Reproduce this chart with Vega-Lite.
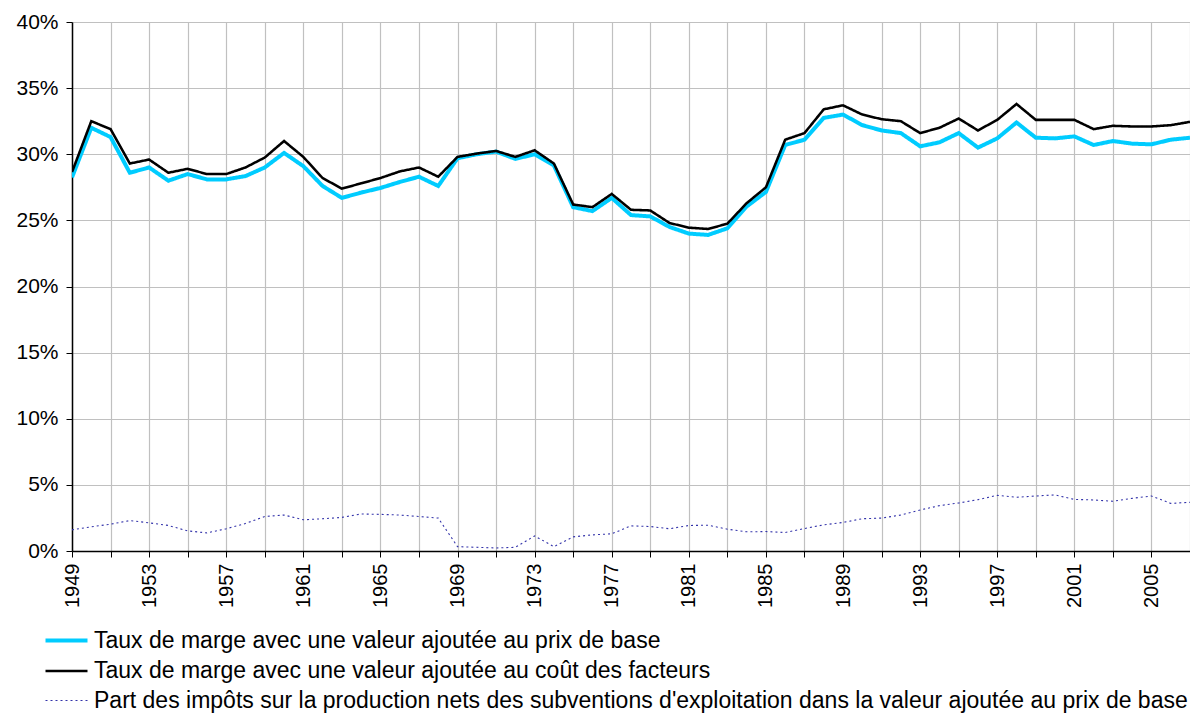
{
  "$schema": "https://vega.github.io/schema/vega-lite/v6.json",
  "width": 1118,
  "height": 529,
  "autosize": {"type": "none"},
  "padding": {"left": 72, "top": 22, "right": 0, "bottom": 162},
  "background": "white",
  "config": {
    "view": {"stroke": null},
    "font": "Liberation Sans"
  },
  "datasets": {
    "d": [
      {"year":1949,"s":"A","v":28.25},{"year":1950,"s":"A","v":32.0},{"year":1951,"s":"A","v":31.3},{"year":1952,"s":"A","v":28.6},{"year":1953,"s":"A","v":29.0},{"year":1954,"s":"A","v":28.0},{"year":1955,"s":"A","v":28.5},{"year":1956,"s":"A","v":28.1},{"year":1957,"s":"A","v":28.1},{"year":1958,"s":"A","v":28.35},{"year":1959,"s":"A","v":29.0},{"year":1960,"s":"A","v":30.1},{"year":1961,"s":"A","v":29.1},{"year":1962,"s":"A","v":27.6},{"year":1963,"s":"A","v":26.7},{"year":1964,"s":"A","v":27.1},{"year":1965,"s":"A","v":27.45},{"year":1966,"s":"A","v":27.9},{"year":1967,"s":"A","v":28.3},{"year":1968,"s":"A","v":27.6},{"year":1969,"s":"A","v":29.7},{"year":1970,"s":"A","v":30.0},{"year":1971,"s":"A","v":30.2},{"year":1972,"s":"A","v":29.65},{"year":1973,"s":"A","v":30.0},{"year":1974,"s":"A","v":29.15},{"year":1975,"s":"A","v":26.0},{"year":1976,"s":"A","v":25.7},{"year":1977,"s":"A","v":26.7},{"year":1978,"s":"A","v":25.4},{"year":1979,"s":"A","v":25.3},{"year":1980,"s":"A","v":24.5},{"year":1981,"s":"A","v":24.0},{"year":1982,"s":"A","v":23.9},{"year":1983,"s":"A","v":24.4},{"year":1984,"s":"A","v":26.05},{"year":1985,"s":"A","v":27.15},{"year":1986,"s":"A","v":30.7},{"year":1987,"s":"A","v":31.1},{"year":1988,"s":"A","v":32.75},{"year":1989,"s":"A","v":33.0},{"year":1990,"s":"A","v":32.2},{"year":1991,"s":"A","v":31.8},{"year":1992,"s":"A","v":31.6},{"year":1993,"s":"A","v":30.6},{"year":1994,"s":"A","v":30.9},{"year":1995,"s":"A","v":31.6},{"year":1996,"s":"A","v":30.5},{"year":1997,"s":"A","v":31.2},{"year":1998,"s":"A","v":32.4},{"year":1999,"s":"A","v":31.25},{"year":2000,"s":"A","v":31.2},{"year":2001,"s":"A","v":31.35},{"year":2002,"s":"A","v":30.7},{"year":2003,"s":"A","v":31.0},{"year":2004,"s":"A","v":30.8},{"year":2005,"s":"A","v":30.75},{"year":2006,"s":"A","v":31.1},{"year":2007,"s":"A","v":31.25},
      {"year":1949,"s":"B","v":28.65},{"year":1950,"s":"B","v":32.5},{"year":1951,"s":"B","v":31.9},{"year":1952,"s":"B","v":29.3},{"year":1953,"s":"B","v":29.6},{"year":1954,"s":"B","v":28.6},{"year":1955,"s":"B","v":28.9},{"year":1956,"s":"B","v":28.5},{"year":1957,"s":"B","v":28.5},{"year":1958,"s":"B","v":29.0},{"year":1959,"s":"B","v":29.75},{"year":1960,"s":"B","v":31.0},{"year":1961,"s":"B","v":29.8},{"year":1962,"s":"B","v":28.2},{"year":1963,"s":"B","v":27.4},{"year":1964,"s":"B","v":27.8},{"year":1965,"s":"B","v":28.2},{"year":1966,"s":"B","v":28.7},{"year":1967,"s":"B","v":29.0},{"year":1968,"s":"B","v":28.3},{"year":1969,"s":"B","v":29.8},{"year":1970,"s":"B","v":30.05},{"year":1971,"s":"B","v":30.25},{"year":1972,"s":"B","v":29.8},{"year":1973,"s":"B","v":30.3},{"year":1974,"s":"B","v":29.3},{"year":1975,"s":"B","v":26.2},{"year":1976,"s":"B","v":26.0},{"year":1977,"s":"B","v":27.0},{"year":1978,"s":"B","v":25.8},{"year":1979,"s":"B","v":25.75},{"year":1980,"s":"B","v":24.8},{"year":1981,"s":"B","v":24.45},{"year":1982,"s":"B","v":24.35},{"year":1983,"s":"B","v":24.75},{"year":1984,"s":"B","v":26.3},{"year":1985,"s":"B","v":27.5},{"year":1986,"s":"B","v":31.1},{"year":1987,"s":"B","v":31.6},{"year":1988,"s":"B","v":33.4},{"year":1989,"s":"B","v":33.7},{"year":1990,"s":"B","v":33.0},{"year":1991,"s":"B","v":32.65},{"year":1992,"s":"B","v":32.5},{"year":1993,"s":"B","v":31.6},{"year":1994,"s":"B","v":32.0},{"year":1995,"s":"B","v":32.7},{"year":1996,"s":"B","v":31.8},{"year":1997,"s":"B","v":32.6},{"year":1998,"s":"B","v":33.8},{"year":1999,"s":"B","v":32.6},{"year":2000,"s":"B","v":32.6},{"year":2001,"s":"B","v":32.6},{"year":2002,"s":"B","v":31.9},{"year":2003,"s":"B","v":32.15},{"year":2004,"s":"B","v":32.1},{"year":2005,"s":"B","v":32.1},{"year":2006,"s":"B","v":32.2},{"year":2007,"s":"B","v":32.45},
      {"year":1949,"s":"C","v":1.6},{"year":1950,"s":"C","v":1.83},{"year":1951,"s":"C","v":2.03},{"year":1952,"s":"C","v":2.3},{"year":1953,"s":"C","v":2.13},{"year":1954,"s":"C","v":1.93},{"year":1955,"s":"C","v":1.52},{"year":1956,"s":"C","v":1.37},{"year":1957,"s":"C","v":1.68},{"year":1958,"s":"C","v":2.08},{"year":1959,"s":"C","v":2.61},{"year":1960,"s":"C","v":2.72},{"year":1961,"s":"C","v":2.36},{"year":1962,"s":"C","v":2.44},{"year":1963,"s":"C","v":2.54},{"year":1964,"s":"C","v":2.8},{"year":1965,"s":"C","v":2.77},{"year":1966,"s":"C","v":2.72},{"year":1967,"s":"C","v":2.61},{"year":1968,"s":"C","v":2.49},{"year":1969,"s":"C","v":0.33},{"year":1970,"s":"C","v":0.28},{"year":1971,"s":"C","v":0.23},{"year":1972,"s":"C","v":0.28},{"year":1973,"s":"C","v":1.14},{"year":1974,"s":"C","v":0.33},{"year":1975,"s":"C","v":1.07},{"year":1976,"s":"C","v":1.22},{"year":1977,"s":"C","v":1.3},{"year":1978,"s":"C","v":1.9},{"year":1979,"s":"C","v":1.85},{"year":1980,"s":"C","v":1.68},{"year":1981,"s":"C","v":1.93},{"year":1982,"s":"C","v":1.95},{"year":1983,"s":"C","v":1.65},{"year":1984,"s":"C","v":1.45},{"year":1985,"s":"C","v":1.47},{"year":1986,"s":"C","v":1.4},{"year":1987,"s":"C","v":1.7},{"year":1988,"s":"C","v":1.98},{"year":1989,"s":"C","v":2.16},{"year":1990,"s":"C","v":2.44},{"year":1991,"s":"C","v":2.49},{"year":1992,"s":"C","v":2.72},{"year":1993,"s":"C","v":3.1},{"year":1994,"s":"C","v":3.43},{"year":1995,"s":"C","v":3.63},{"year":1996,"s":"C","v":3.88},{"year":1997,"s":"C","v":4.21},{"year":1998,"s":"C","v":4.06},{"year":1999,"s":"C","v":4.16},{"year":2000,"s":"C","v":4.24},{"year":2001,"s":"C","v":3.9},{"year":2002,"s":"C","v":3.86},{"year":2003,"s":"C","v":3.76},{"year":2004,"s":"C","v":3.98},{"year":2005,"s":"C","v":4.16},{"year":2006,"s":"C","v":3.6},{"year":2007,"s":"C","v":3.68}
    ],
    "names": [
      {"s":"A","name":"Taux de marge avec une valeur ajoutée au prix de base"},
      {"s":"B","name":"Taux de marge avec une valeur ajoutée au coût des facteurs"},
      {"s":"C","name":"Part des impôts sur la production nets des subventions d'exploitation dans la valeur ajoutée au prix de base"}
    ]
  },
  "data": {"name": "d"},
  "transform": [
    {"lookup": "s", "from": {"data": {"name": "names"}, "key": "s", "fields": ["name"]}}
  ],
  "mark": {"type": "line", "clip": true},
  "encoding": {
    "x": {
      "field": "year", "type": "quantitative",
      "scale": {"domain": [1949, 2007], "nice": false, "zero": false},
      "axis": {
        "title": null,
        "values": [1949,1951,1953,1955,1957,1959,1961,1963,1965,1967,1969,1971,1973,1975,1977,1979,1981,1983,1985,1987,1989,1991,1993,1995,1997,1999,2001,2003,2005,2007],
        "labelExpr": "(datum.value - 1949) % 4 == 0 ? '' + datum.value : ''",
        "labelAngle": -90,
        "labelAlign": "right",
        "labelBaseline": "middle",
        "labelPadding": 6,
        "labelFontSize": 20,
        "labelColor": "black",
        "labelOverlap": false,
        "labelFlush": false,
        "tickSize": 6,
        "tickColor": "black",
        "domainColor": "black",
        "domainWidth": 1.5,
        "gridColor": "#c0c0c0",
        "gridWidth": 1.2
      }
    },
    "y": {
      "field": "v", "type": "quantitative",
      "scale": {"domain": [0, 40], "nice": false},
      "axis": {
        "title": null,
        "values": [0,5,10,15,20,25,30,35,40],
        "labelExpr": "datum.value + '%'",
        "labelFontSize": 21,
        "labelColor": "black",
        "labelPadding": 8,
        "tickSize": 6,
        "tickColor": "black",
        "domainColor": "black",
        "domainWidth": 1.5,
        "gridColor": "#c0c0c0",
        "gridWidth": 1.2
      }
    },
    "color": {
      "field": "name", "type": "nominal",
      "scale": {
        "domain": [
          "Taux de marge avec une valeur ajoutée au prix de base",
          "Taux de marge avec une valeur ajoutée au coût des facteurs",
          "Part des impôts sur la production nets des subventions d'exploitation dans la valeur ajoutée au prix de base"
        ],
        "range": ["#00CCFF", "#000000", "#3333AA"]
      },
      "legend": {
        "title": null,
        "orient": "none",
        "legendX": -18,
        "legendY": 606,
        "direction": "vertical",
        "symbolType": "M-2,0L2,0",
        "symbolSize": 441,
        "labelFontSize": 23,
        "labelColor": "black",
        "labelLimit": 0,
        "labelOffset": 15,
        "rowPadding": 6,
        "padding": 0
      }
    },
    "strokeWidth": {
      "field": "name", "type": "nominal",
      "scale": {
        "domain": [
          "Taux de marge avec une valeur ajoutée au prix de base",
          "Taux de marge avec une valeur ajoutée au coût des facteurs",
          "Part des impôts sur la production nets des subventions d'exploitation dans la valeur ajoutée au prix de base"
        ],
        "range": [4, 1.1, 1.5]
      },
      "legend": null
    },
    "strokeDash": {
      "field": "name", "type": "nominal",
      "scale": {
        "domain": [
          "Taux de marge avec une valeur ajoutée au prix de base",
          "Taux de marge avec une valeur ajoutée au coût des facteurs",
          "Part des impôts sur la production nets des subventions d'exploitation dans la valeur ajoutée au prix de base"
        ],
        "range": [[1, 0], [1, 0], [2, 3]]
      },
      "legend": null
    },
    "order": {"field": "s"}
  }
}
